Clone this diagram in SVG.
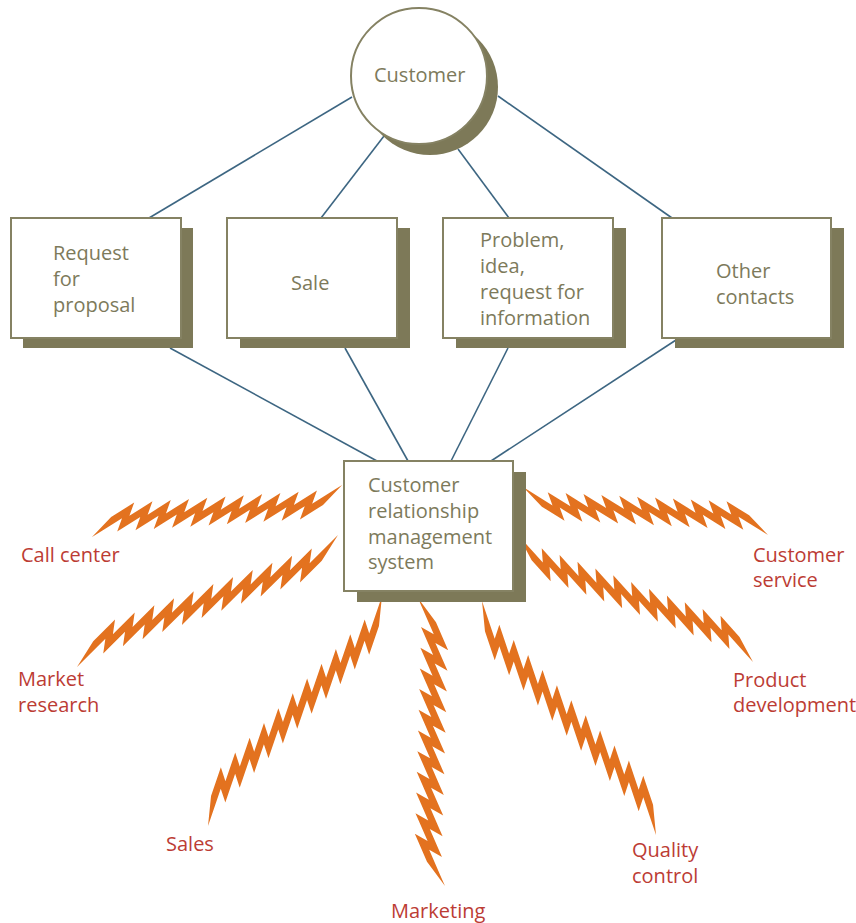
<svg xmlns="http://www.w3.org/2000/svg" width="856" height="923" viewBox="0 0 856 923">
  <style>
    .frame { fill: #ffffff; stroke: #858263; stroke-width: 2; }
    .shadow { fill: #7d7958; }
    .link { stroke: #3d6682; stroke-width: 1.6; fill: none; }
    .node-text { font-family: "Open Sans", "DejaVu Sans", sans-serif; font-size: 20px; fill: #7d7a5b; }
    .label { font-family: "Open Sans", "DejaVu Sans", sans-serif; font-size: 20px; fill: #bc3c34; }
    .bolt { fill: #e3721f; }
  </style>
  <defs>
    <!-- zigzag lightning band: chain of slanted parallelograms, far tip at (0,0), near tip at (293.7,0) -->
    <path id="bolt" class="bolt" transform="rotate(6.967) translate(0,-17.81)"
      d="M24.1,-0.91 l-15.7,14.82 l-8.4,3.9 z
         M8.4,13.91 l15.7,-14.82 l28,-13 l-15.7,14.82 z
         m28,-13 l15.7,-14.82 l-7,13 l-15.7,14.82 z m-7,13 l15.7,-14.82 l28,-13 l-15.7,14.82 z
         m28,-13 l15.7,-14.82 l-7,13 l-15.7,14.82 z m-7,13 l15.7,-14.82 l28,-13 l-15.7,14.82 z
         m28,-13 l15.7,-14.82 l-7,13 l-15.7,14.82 z m-7,13 l15.7,-14.82 l28,-13 l-15.7,14.82 z
         m28,-13 l15.7,-14.82 l-7,13 l-15.7,14.82 z m-7,13 l15.7,-14.82 l28,-13 l-15.7,14.82 z
         m28,-13 l15.7,-14.82 l-7,13 l-15.7,14.82 z m-7,13 l15.7,-14.82 l28,-13 l-15.7,14.82 z
         m28,-13 l15.7,-14.82 l-7,13 l-15.7,14.82 z m-7,13 l15.7,-14.82 l28,-13 l-15.7,14.82 z
         m28,-13 l15.7,-14.82 l-7,13 l-15.7,14.82 z m-7,13 l15.7,-14.82 l28,-13 l-15.7,14.82 z
         m28,-13 l15.7,-14.82 l-7,13 l-15.7,14.82 z m-7,13 l15.7,-14.82 l28,-13 l-15.7,14.82 z
         m28,-13 l15.7,-14.82 l-7,13 l-15.7,14.82 z m-7,13 l15.7,-14.82 l28,-13 l-15.7,14.82 z
         m28,-13 l15.7,-14.82 l-7,13 l-15.7,14.82 z m-7,13 l15.7,-14.82 l28,-13 l-15.7,14.82 z
         m28,-13 l15.7,-14.82 l-7,13 l-15.7,14.82 z m-7,13 l15.7,-14.82 l28,-13 l-15.7,14.82 z
         m28,-13 l15.7,-14.82 l8.4,-3.9 z"/>
  </defs>

  <rect width="856" height="923" fill="#ffffff"/>

  <g id="connectors">
    <line class="link" x1="352" y1="97" x2="149" y2="218"/>
    <line class="link" x1="384" y1="136" x2="321" y2="218"/>
    <line class="link" x1="458" y1="149" x2="509" y2="218"/>
    <line class="link" x1="498" y1="96" x2="672" y2="218"/>
    <line class="link" x1="170" y1="348" x2="377" y2="461"/>
    <line class="link" x1="345" y1="348" x2="408" y2="461"/>
    <line class="link" x1="508" y1="348" x2="451" y2="461"/>
    <line class="link" x1="676" y1="340" x2="491" y2="461"/>
  </g>

  <g id="bolts">
    <use href="#bolt" transform="translate(92,537) rotate(-11.75) scale(0.870,1)"/>
    <use href="#bolt" transform="translate(77,667) rotate(-26.83) scale(0.996,1)"/>
    <use href="#bolt" transform="translate(208,826) rotate(-52.89) scale(0.982,1)"/>
    <use href="#bolt" transform="translate(445,886) rotate(-95.36) scale(0.985,1)"/>
    <use href="#bolt" transform="translate(656,835) rotate(-126.63) scale(0.993,-1)"/>
    <use href="#bolt" transform="translate(753,662) rotate(-151.61) scale(0.909,-1)"/>
    <use href="#bolt" transform="translate(768,535) rotate(-168.92) scale(0.850,-1)"/>
  </g>

  <g id="customer">
    <circle class="shadow" cx="430" cy="87" r="68"/>
    <circle class="frame" cx="419" cy="76" r="68"/>
    <text class="node-text" x="374" y="82">Customer</text>
  </g>

  <g id="request-for-proposal">
    <rect class="shadow" x="23" y="228" width="170" height="120"/>
    <rect class="frame" x="11" y="218" width="170" height="120"/>
    <text class="node-text" x="53" y="260">Request</text>
    <text class="node-text" x="53" y="286">for</text>
    <text class="node-text" x="53" y="312">proposal</text>
  </g>

  <g id="sale">
    <rect class="shadow" x="240" y="228" width="170" height="120"/>
    <rect class="frame" x="227" y="218" width="170" height="120"/>
    <text class="node-text" x="291" y="290">Sale</text>
  </g>

  <g id="problem">
    <rect class="shadow" x="456" y="228" width="170" height="120"/>
    <rect class="frame" x="443" y="218" width="170" height="120"/>
    <text class="node-text" x="480" y="247">Problem,</text>
    <text class="node-text" x="480" y="273">idea,</text>
    <text class="node-text" x="480" y="299">request for</text>
    <text class="node-text" x="480" y="325">information</text>
  </g>

  <g id="other-contacts">
    <rect class="shadow" x="675" y="228" width="169" height="120"/>
    <rect class="frame" x="662" y="218" width="169" height="120"/>
    <text class="node-text" x="716" y="278">Other</text>
    <text class="node-text" x="716" y="304">contacts</text>
  </g>

  <g id="crm-system">
    <rect class="shadow" x="357" y="472" width="169" height="130"/>
    <rect class="frame" x="344" y="461" width="169" height="130"/>
    <text class="node-text" x="368" y="492">Customer</text>
    <text class="node-text" x="368" y="518">relationship</text>
    <text class="node-text" x="368" y="543.5">management</text>
    <text class="node-text" x="368" y="569">system</text>
  </g>

  <g id="call-center"><text class="label" x="21" y="562">Call center</text></g>
  <g id="market-research">
    <text class="label" x="18" y="686">Market</text>
    <text class="label" x="18" y="712">research</text>
  </g>
  <g id="sales"><text class="label" x="166" y="851">Sales</text></g>
  <g id="marketing"><text class="label" x="391" y="918">Marketing</text></g>
  <g id="quality-control">
    <text class="label" x="632" y="857">Quality</text>
    <text class="label" x="632" y="883">control</text>
  </g>
  <g id="product-development">
    <text class="label" x="733" y="687">Product</text>
    <text class="label" x="733" y="712">development</text>
  </g>
  <g id="customer-service">
    <text class="label" x="753" y="562">Customer</text>
    <text class="label" x="753" y="587">service</text>
  </g>
</svg>
